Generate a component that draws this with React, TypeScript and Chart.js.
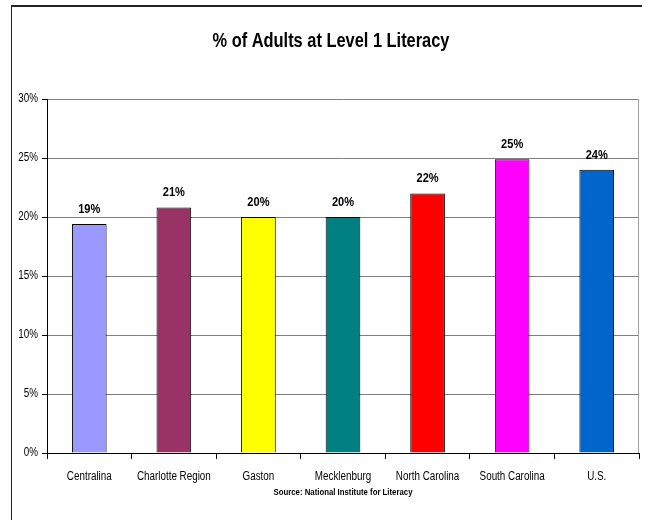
import React, { useEffect, useRef } from "react";
import { Chart, registerables } from "chart.js";

Chart.register(...registerables);

// Chart content
const categories = [
  "Centralina",
  "Charlotte Region",
  "Gaston",
  "Mecklenburg",
  "North Carolina",
  "South Carolina",
  "U.S.",
];
const percentAdults = [19.4, 20.8, 20.0, 20.0, 22.0, 24.9, 24.0];
const barColors = ["#9999FF", "#993366", "#FFFF00", "#008080", "#FF0000", "#FF00FF", "#0066CC"];
const yTickValues = [0, 5, 10, 15, 20, 25, 30];
const titleText = "% of Adults at Level 1 Literacy";
const sourceText = "Source: National Institute for Literacy";

const FONT = '"Liberation Sans", Arial, sans-serif';
const SQUEEZE = 0.82; // horizontal compression for a narrow-face look
const W = 647;
const H = 520;

const pct = (v: number) => `${Math.round(v)}%`;

function narrowText(
  ctx: CanvasRenderingContext2D,
  text: string,
  x: number,
  y: number,
  font: string,
  align: CanvasTextAlign,
  baseline: CanvasTextBaseline
) {
  ctx.save();
  ctx.font = font;
  ctx.textAlign = align;
  ctx.textBaseline = baseline;
  ctx.fillStyle = "#000000";
  ctx.translate(x, y);
  ctx.scale(SQUEEZE, 1);
  ctx.fillText(text, 0, 0);
  ctx.restore();
}

const decorPlugin = {
  id: "decor",
  beforeDraw(chart: any) {
    const { ctx } = chart;
    ctx.save();
    ctx.fillStyle = "#ffffff";
    ctx.fillRect(0, 0, W, H);
    // outer frame (top and left edges)
    ctx.strokeStyle = "#222222";
    ctx.lineWidth = 2;
    ctx.beginPath();
    ctx.moveTo(11, 6);
    ctx.lineTo(642, 6);
    ctx.stroke();
    ctx.lineWidth = 1;
    ctx.beginPath();
    ctx.moveTo(11.5, 6);
    ctx.lineTo(11.5, H);
    ctx.stroke();
    ctx.restore();
  },
  afterDatasetsDraw(chart: any) {
    const { ctx, chartArea, scales } = chart;
    ctx.save();
    // right edge of the plot area
    ctx.strokeStyle = "#a0a0a0";
    ctx.lineWidth = 1;
    ctx.beginPath();
    ctx.moveTo(Math.round(chartArea.right) - 0.5, chartArea.top);
    ctx.lineTo(Math.round(chartArea.right) - 0.5, chartArea.bottom);
    ctx.stroke();
    ctx.restore();

    // y-axis tick labels
    const yScale = scales.y;
    yTickValues.forEach((v) => {
      narrowText(ctx, `${v}%`, chartArea.left - 9, yScale.getPixelForValue(v), `12px ${FONT}`, "right", "middle");
    });

    // category labels
    const xScale = scales.x;
    categories.forEach((c, i) => {
      narrowText(ctx, c, xScale.getPixelForValue(i), chartArea.bottom + 24, `12px ${FONT}`, "center", "middle");
    });

    // value labels above bars
    const meta = chart.getDatasetMeta(0);
    meta.data.forEach((bar: any, i: number) => {
      narrowText(ctx, pct(percentAdults[i]), bar.x, bar.y - 15, `bold 13.5px ${FONT}`, "center", "middle");
    });

    // title
    narrowText(ctx, titleText, 331, 46.5, `bold 20px ${FONT}`, "center", "alphabetic");

    // source note
    narrowText(
      ctx,
      sourceText,
      (chartArea.left + chartArea.right) / 2,
      495,
      `bold 9.5px ${FONT}`,
      "center",
      "alphabetic"
    );
  },
};

export default function App() {
  const canvasRef = useRef<HTMLCanvasElement | null>(null);

  useEffect(() => {
    const canvas = canvasRef.current;
    if (!canvas) return;
    const chart = new Chart(canvas, {
      type: "bar",
      data: {
        labels: categories,
        datasets: [
          {
            data: percentAdults,
            backgroundColor: barColors,
            borderColor: "#000000",
            borderWidth: 1,
            barPercentage: 0.41,
            categoryPercentage: 1,
          },
        ],
      },
      options: {
        animation: false,
        responsive: false,
        devicePixelRatio: 1,
        layout: { padding: { left: 0, top: 99, right: 8, bottom: 32 } },
        plugins: {
          legend: { display: false },
          tooltip: { enabled: false },
          title: { display: false },
        },
        scales: {
          x: {
            offset: true,
            grid: {
              display: true,
              offset: true,
              drawOnChartArea: false,
              drawTicks: true,
              tickLength: 6,
              color: "#000000",
            },
            border: { display: true, color: "#000000", width: 1 },
            ticks: { display: false, autoSkip: false, maxRotation: 0 },
            afterFit(scale: any) {
              scale.height = 35;
            },
          },
          y: {
            min: 0,
            max: 30,
            afterBuildTicks(scale: any) {
              scale.ticks = yTickValues.map((v) => ({ value: v }));
            },
            grid: {
              color: (c: any) => (c.tick && c.tick.value === 0 ? "#000000" : "#808080"),
              tickColor: "#000000",
              tickLength: 5,
            },
            border: { display: true, color: "#000000", width: 1 },
            ticks: { display: false },
            afterFit(scale: any) {
              scale.width = 47;
            },
          },
        },
      },
      plugins: [decorPlugin],
    });
    return () => chart.destroy();
  }, []);

  return (
    <div style={{ position: "fixed", left: 0, top: 0, width: W, height: H, background: "#fff" }}>
      <canvas ref={canvasRef} width={W} height={H} style={{ width: W, height: H, display: "block" }} />
    </div>
  );
}
